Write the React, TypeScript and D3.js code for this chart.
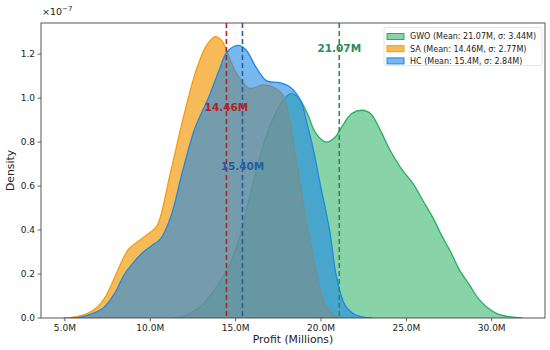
import React from 'react';
import * as d3 from 'd3';

// profit in millions, density in units of 1e-7
const gwoX = [11.3, 12.0, 12.9, 13.6, 14.2, 14.7, 15.2, 15.6, 16.1, 16.6, 17.1, 17.6, 18.2, 18.7, 19.2, 19.7, 20.3, 20.8, 21.3, 21.8, 22.4, 22.9, 23.5, 24.0, 24.7, 25.4, 26.0, 26.6, 27.1, 27.6, 28.1, 28.7, 29.2, 29.7, 30.3, 31.0, 31.8];
const gwoY = [0, 0.01, 0.05, 0.11, 0.18, 0.25, 0.36, 0.48, 0.64, 0.78, 0.89, 0.97, 1.02, 1.0, 0.93, 0.84, 0.8, 0.82, 0.88, 0.93, 0.945, 0.93, 0.85, 0.77, 0.68, 0.61, 0.53, 0.45, 0.37, 0.3, 0.22, 0.15, 0.09, 0.05, 0.02, 0.006, 0];

const saX = [4.9, 5.6, 6.3, 6.9, 7.4, 8.0, 8.7, 9.4, 10.0, 10.4, 11.15, 11.9, 12.7, 13.3, 13.8, 14.2, 14.5, 15.0, 15.8, 16.6, 17.2, 17.8, 18.2, 18.65, 19.2, 19.7, 20.2, 20.7, 21.3];
const saY = [0, 0.005, 0.02, 0.05, 0.1, 0.2, 0.31, 0.355, 0.39, 0.42, 0.65, 0.9, 1.13, 1.24, 1.28, 1.26, 1.21, 1.12, 1.045, 1.06, 1.05, 1.01, 0.88, 0.67, 0.42, 0.22, 0.07, 0.015, 0];

const hcX = [5.3, 6.0, 6.6, 7.25, 7.9, 8.5, 9.1, 9.6, 10.1, 10.6, 11.2, 11.9, 12.6, 13.4, 14.0, 14.5, 15.15, 15.6, 16.2, 16.8, 17.6, 18.2, 18.8, 19.2, 19.6, 19.9, 20.5, 20.9, 21.4, 22.0, 23.0];
const hcY = [0, 0.005, 0.02, 0.045, 0.11, 0.2, 0.26, 0.3, 0.33, 0.36, 0.46, 0.67, 0.86, 1.0, 1.12, 1.21, 1.24, 1.22, 1.14, 1.08, 1.07, 1.05, 0.99, 0.88, 0.75, 0.63, 0.4, 0.19, 0.06, 0.015, 0];

const seriesNames = ['GWO', 'SA', 'HC'];
const means = [21.07, 14.46, 15.4];
const sigmas = [3.44, 2.77, 2.84];
const meanLabels = ['21.07M', '14.46M', '15.40M'];
const xTicks = [5, 10, 15, 20, 25, 30];
const yTicks = [0, 0.2, 0.4, 0.6, 0.8, 1.0, 1.2];

const fills = ['#27ae60', '#f39c12', '#1e88e5'];
const fillAlpha = [0.55, 0.7, 0.6];
const lineColors = ['#2e8b57', '#b22222', '#1f5fa8'];

const W = 550;
const H = 350;
const margin = { top: 23, right: 5, bottom: 32, left: 41 };

export default function App() {
  const x = d3.scaleLinear().domain([3.6, 33.12]).range([margin.left, W - margin.right]);
  const y = d3.scaleLinear().domain([0, 1.342]).range([H - margin.bottom, margin.top]);

  const curves = [
    gwoX.map((v, i) => [v, gwoY[i]]),
    saX.map((v, i) => [v, saY[i]]),
    hcX.map((v, i) => [v, hcY[i]]),
  ] as [number, number][][];

  const area = d3
    .area<[number, number]>()
    .x((d) => x(d[0]))
    .y0(y(0))
    .y1((d) => y(d[1]))
    .curve(d3.curveCatmullRom.alpha(0.5));
  const line = d3
    .line<[number, number]>()
    .x((d) => x(d[0]))
    .y((d) => y(d[1]))
    .curve(d3.curveCatmullRom.alpha(0.5));

  const font = 'DejaVu Sans, sans-serif';
  const labelY = [49, 108, 167];
  const x0 = margin.left;
  const x1 = W - margin.right;
  const y0 = H - margin.bottom;
  const y1 = margin.top;

  return (
    <svg
      width={W}
      height={H}
      style={{ position: 'absolute', left: 0, top: 0, background: '#fff' }}
      fontFamily={font}
    >
      <defs>
        <clipPath id="plot">
          <rect x={x0} y={y1} width={x1 - x0} height={y0 - y1} />
        </clipPath>
      </defs>
      <g clipPath="url(#plot)">
        {curves.map((c, i) => (
          <g key={seriesNames[i]}>
            <path d={area(c) || ''} fill={fills[i]} fillOpacity={fillAlpha[i]} />
            <path d={line(c) || ''} fill="none" stroke={fills[i]} strokeWidth={1.3} />
          </g>
        ))}
      </g>

      {means.map((m, i) => (
        <line
          key={'m' + i}
          x1={x(m)}
          x2={x(m)}
          y1={y1}
          y2={y0}
          stroke={lineColors[i]}
          strokeWidth={1.6}
          strokeDasharray="5,3"
        />
      ))}
      {means.map((m, i) => (
        <text
          key={'t' + i}
          x={x(m)}
          y={labelY[i]}
          textAnchor="middle"
          dominantBaseline="middle"
          fontSize={10.5}
          fontWeight="bold"
          fill={lineColors[i]}
        >
          {meanLabels[i]}
        </text>
      ))}

      {/* frame */}
      <rect x={x0} y={y1} width={x1 - x0} height={y0 - y1} fill="none" stroke="#444" strokeWidth={0.9} />

      {xTicks.map((t) => (
        <g key={'x' + t} transform={`translate(${x(t)},${y0})`}>
          <line y2={3.5} stroke="#444" strokeWidth={0.8} />
          <text y={13} textAnchor="middle" fontSize={9} fill="#222">
            {t.toFixed(1) + 'M'}
          </text>
        </g>
      ))}
      {yTicks.map((t) => (
        <g key={'y' + t} transform={`translate(${x0},${y(t)})`}>
          <line x2={-3.5} stroke="#444" strokeWidth={0.8} />
          <text x={-6} dy="0.35em" textAnchor="end" fontSize={9} fill="#222">
            {t.toFixed(1)}
          </text>
        </g>
      ))}

      <text x={42} y={15} fontSize={9.5} fill="#222">
        ×10
        <tspan dy={-4} fontSize={7}>−7</tspan>
      </text>

      <text x={(x0 + x1) / 2} y={343} textAnchor="middle" fontSize={10.8} fill="#222">
        Profit (Millions)
      </text>
      <text
        transform={`translate(14,${(y0 + y1) / 2}) rotate(-90)`}
        textAnchor="middle"
        fontSize={10.8}
        fill="#222"
      >
        Density
      </text>

      {/* legend */}
      <g transform="translate(384,27.5)">
        <rect width={158} height={38} rx={2} fill="#fff" fillOpacity={0.8} stroke="#ddd" strokeWidth={0.8} />
        {seriesNames.map((n, i) => (
          <g key={'l' + n} transform={`translate(3,${6 + i * 12.2})`}>
            <rect width={17} height={6} fill={fills[i]} fillOpacity={fillAlpha[i]} stroke={fills[i]} strokeWidth={1} />
            <text x={23} y={3} dy="0.35em" fontSize={8} fill="#222">
              {`${n} (Mean: ${means[i]}M, σ: ${sigmas[i]}M)`}
            </text>
          </g>
        ))}
      </g>
    </svg>
  );
}
